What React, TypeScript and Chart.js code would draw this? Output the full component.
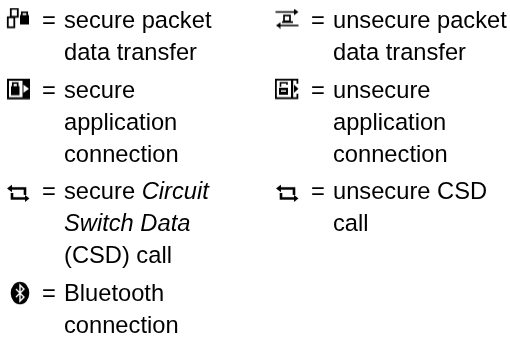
import React, { useEffect, useRef } from "react";
import { Chart, registerables } from "chart.js";

Chart.register(...registerables);

// Legend content: icon names, text lines ("|" toggles italic), and row numbers
const leftIcons = ["securePacket", "secureApp", "secureCsd", "bluetooth"];
const rightIcons = ["unsecurePacket", "unsecureApp", "unsecureCsd"];
const leftTexts = [
  ["secure packet", "data transfer"],
  ["secure", "application", "connection"],
  ["secure |Circuit|", "|Switch Data|", "(CSD) call"],
  ["Bluetooth", "connection"],
];
const rightTexts = [
  ["unsecure packet", "data transfer"],
  ["unsecure", "application", "connection"],
  ["unsecure CSD", "call"],
];
const leftRows = [0, 2, 5, 8];
const leftGaps = [0, 1, 2, 3];
const rightRows = [0, 2, 5];
const rightGaps = [0, 1, 2];

const FONT = '"Liberation Sans", Arial, sans-serif';
const SIZE = 23.7;
const LINE = 32;
const GAP = 5.7;
const BASE = 28;
const COL_X = [18, 287];

type Ctx = CanvasRenderingContext2D;
type Draw = (c: Ctx) => void;

function lockShape(c: Ctx, x: number, y: number, w: number, h: number, sh: number) {
  c.fillRect(x, y + sh, w, h - sh);
  c.lineWidth = 1.7;
  c.strokeRect(x + 1.8, y + 0.8, w - 3.6, sh + 1);
}

const iconDraw: Record<string, [number, number, Draw]> = {
  securePacket: [24, 22, (c) => {
    c.lineWidth = 1.8;
    c.strokeRect(4.8, 1.3, 7, 8);
    c.clearRect(1.5, 9, 7, 11);
    c.strokeRect(1.8, 9.8, 6.5, 10);
    lockShape(c, 14, 4, 9, 13, 3.6);
  }],
  secureApp: [24, 22, (c) => {
    c.lineWidth = 2;
    c.strokeRect(2, 2, 21, 18.5);
    c.fillRect(16.5, 1, 7.5, 20);
    c.fillStyle = "#fff";
    c.beginPath();
    c.moveTo(17.5, 7); c.lineTo(23, 11); c.lineTo(17.5, 15);
    c.closePath(); c.fill();
    c.fillStyle = "#000";
    lockShape(c, 5, 4.5, 8.5, 13, 4);
  }],
  secureCsd: [24, 20, (c) => {
    c.lineWidth = 2.6;
    c.beginPath();
    c.moveTo(6, 4.5); c.lineTo(19, 4.5); c.lineTo(19, 11);
    c.moveTo(6, 9); c.lineTo(6, 14.5); c.lineTo(19, 14.5);
    c.stroke();
    c.beginPath();
    c.moveTo(1, 4.5); c.lineTo(6, 0.8); c.lineTo(6, 8.2);
    c.closePath(); c.fill();
    c.beginPath();
    c.moveTo(23.5, 14.5); c.lineTo(19, 11); c.lineTo(19, 18);
    c.closePath(); c.fill();
  }],
  bluetooth: [24, 24, (c) => {
    c.beginPath();
    c.ellipse(14, 12, 9.3, 11.3, 0, 0, Math.PI * 2);
    c.fill();
    c.strokeStyle = "#fff";
    c.lineWidth = 1.4;
    c.beginPath();
    c.moveTo(10, 8); c.lineTo(18, 16); c.lineTo(14, 20); c.lineTo(14, 4);
    c.lineTo(18, 8); c.lineTo(10, 16);
    c.stroke();
  }],
  unsecurePacket: [24, 20, (c) => {
    c.lineWidth = 1.7;
    c.beginPath();
    c.moveTo(0.5, 3.5); c.lineTo(21, 3.5);
    c.moveTo(3, 17); c.lineTo(23.5, 17);
    c.moveTo(7, 13.6); c.lineTo(18, 13.6);
    c.stroke();
    c.strokeRect(9, 7, 6, 5.8);
    c.beginPath();
    c.moveTo(23.5, 3.5); c.lineTo(19, 0.3); c.lineTo(19, 6.7);
    c.closePath(); c.fill();
    c.beginPath();
    c.moveTo(1, 17); c.lineTo(5.5, 13.8); c.lineTo(5.5, 20);
    c.closePath(); c.fill();
  }],
  unsecureApp: [24, 22, (c) => {
    c.lineWidth = 1.8;
    c.strokeRect(0.9, 1.9, 21.5, 18.5);
    c.fillStyle = "#fff";
    c.fillRect(19, 6, 5, 10);
    c.fillStyle = "#000";
    c.fillRect(16, 1, 2.2, 20);
    c.beginPath();
    c.moveTo(19, 7); c.lineTo(23.5, 11); c.lineTo(19, 15);
    c.closePath(); c.fill();
    c.fillRect(4, 10, 9, 7);
    c.lineWidth = 1.6;
    c.beginPath();
    c.moveTo(5.5, 9); c.lineTo(5.5, 5); c.lineTo(12, 5); c.lineTo(12, 7);
    c.stroke();
    c.fillStyle = "#fff";
    c.fillRect(6, 12.5, 5, 1.5);
  }],
};
iconDraw.unsecureCsd = iconDraw.secureCsd;

function makeIcon(name: string) {
  const [w, h, draw] = iconDraw[name];
  const cv = document.createElement("canvas");
  cv.width = w;
  cv.height = h;
  const c = cv.getContext("2d") as Ctx;
  c.fillStyle = "#000";
  c.strokeStyle = "#000";
  draw(c);
  return cv;
}

const rowValue = (row: number, gaps: number) => row * LINE + gaps * GAP;

const textPlugin = {
  id: "legendText",
  afterDatasetsDraw(chart: any) {
    const c: Ctx = chart.ctx;
    const { x, y } = chart.scales;
    c.save();
    c.fillStyle = "#000";
    c.textBaseline = "alphabetic";
    const drawCol = (col: number, texts: string[][], rows: number[], gaps: number[]) => {
      const xIcon = x.getPixelForValue(col);
      const eqX = xIcon + 24;
      const textX = xIcon + 46;
      texts.forEach((lines, i) => {
        lines.forEach((line, j) => {
          const py = y.getPixelForValue(rowValue(rows[i] + j, gaps[i]));
          if (j === 0) {
            c.font = `${SIZE}px ${FONT}`;
            c.fillText("=", eqX, py);
          }
          let cx = textX;
          line.split("|").forEach((part, k) => {
            c.font = `${k % 2 ? "italic " : ""}${SIZE}px ${FONT}`;
            c.fillText(part, cx, py);
            cx += c.measureText(part).width;
          });
        });
      });
    };
    drawCol(0, leftTexts, leftRows, leftGaps);
    drawCol(1, rightTexts, rightRows, rightGaps);
    c.restore();
  },
};

export default function App() {
  const ref = useRef<HTMLCanvasElement>(null);
  useEffect(() => {
    document.body.style.margin = "0";
    document.body.style.background = "#fff";
    const colWidth = COL_X[1] - COL_X[0];
    const ICON_DY = [-9.5, -9, -5.5, -8];
    const points = (col: number, icons: string[], rows: number[], gaps: number[], dys: number[]) => ({
      data: icons.map((_, i) => ({ x: col, y: rowValue(rows[i], gaps[i]) + dys[i] })),
      pointStyle: icons.map(makeIcon),
      pointRadius: 12,
      clip: false,
    });
    const chart = new Chart(ref.current as HTMLCanvasElement, {
      type: "scatter",
      data: {
        datasets: [
          points(0, leftIcons, leftRows, leftGaps, ICON_DY),
          points(1, rightIcons, rightRows, rightGaps, ICON_DY),
        ] as any,
      },
      options: {
        animation: false,
        responsive: false,
        events: [],
        layout: { padding: 0, autoPadding: false },
        plugins: { legend: { display: false }, tooltip: { enabled: false }, title: { display: false } },
        scales: {
          x: { display: false, min: -COL_X[0] / colWidth, max: (510 - COL_X[0]) / colWidth },
          y: { display: false, min: -BASE, max: 337 - BASE, reverse: true },
        },
      },
      plugins: [textPlugin],
    });
    return () => chart.destroy();
  }, []);
  return <canvas ref={ref} width={510} height={337} style={{ display: "block" }} />;
}
